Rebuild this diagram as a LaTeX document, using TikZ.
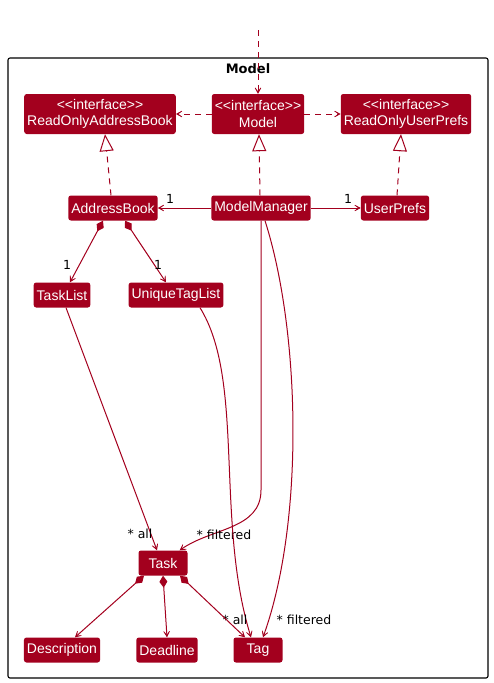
\documentclass[tikz,border=0pt]{standalone}
\usepackage{fontspec}
\usetikzlibrary{arrows.meta}
\newfontfamily\umlfont{Liberation Sans}
\newfontfamily\lblfont{DejaVu Sans}
\definecolor{umlred}{RGB}{163,0,30}

\begin{document}
\begin{tikzpicture}[x=1pt, y=-1pt,
  cls/.style={fill=umlred, text=white, rounded corners=2.5pt, inner xsep=3pt, inner ysep=0pt,
    minimum height=25pt, minimum width=49pt, align=center, font=\umlfont\fontsize{14}{16.5}\selectfont},
  iface/.style={cls, minimum height=40pt},
  lbl/.style={font=\lblfont\fontsize{12.5}{14}\selectfont, inner sep=0pt},
  assoc/.style={umlred, line width=1pt, -{Stealth[length=10pt,width=11pt,inset=7.5pt]}},
  dep/.style={assoc, dash pattern=on 6pt off 5pt},
  real/.style={umlred, line width=1pt, dash pattern=on 6pt off 5pt,
    -{Triangle[length=17pt,width=14pt,fill=white]}},
  comp/.style={umlred, line width=1pt,
    {Diamond[length=12pt,width=8pt]}-{Stealth[length=10pt,width=11pt,inset=7.5pt]}}]
  \useasboundingbox (0,0) rectangle (493,683);
  % Package
  \draw[black, line width=1.1pt, rounded corners=2pt] (8,58) rectangle (488,678);
  \node[font=\lblfont\bfseries\fontsize{13}{15}\selectfont] (title) at (248,69) {Model};
  % Interfaces
  \node[iface] (roab) at (100,114) {<<interface>>\\ReadOnlyAddressBook};
  \node[iface] (model) at (258,114) {<<interface>>\\Model};
  \node[iface] (roup) at (406,114) {<<interface>>\\ReadOnlyUserPrefs};
  % Classes
  \node[cls] (ab) at (113,208) {AddressBook};
  \node[cls] (mm) at (261,208) {ModelManager};
  \node[cls] (up) at (395,208) {UserPrefs};
  \node[cls] (tl) at (62,295) {TaskList};
  \node[cls] (utl) at (176,295) {UniqueTagList};
  \node[cls] (task) at (163,563) {Task};
  \node[cls] (desc) at (62,650) {Description};
  \node[cls] (dl) at (167,650) {Deadline};
  \node[cls] (tag) at (258,650) {Tag};
  % Dependencies
  \coordinate (ext) at (258,30);
  \draw[dep] (ext) -- (model);
  \draw[dep] (model) -- (roab);
  \draw[dep] (model) -- (roup);
  % Realizations
  \draw[real] ([xshift=-2pt]ab.north) -- ([xshift=5pt]roab.south);
  \draw[real] ([xshift=-1pt]mm.north) -- ([xshift=1pt]model.south);
  \draw[real] ([xshift=2pt]up.north) -- ([xshift=-5pt]roup.south);
  % Associations
  \draw[assoc] (mm) -- (ab);
  \draw[assoc] (mm) -- (up);
  \node[lbl] (l1) at (170,199) {1};
  \node[lbl] (l2) at (348,199) {1};
  \draw[comp] ([xshift=-10pt]ab.south) -- ([xshift=8pt]tl.north);
  \draw[comp] ([xshift=12pt]ab.south) -- ([xshift=-10pt]utl.north);
  \node[lbl] (l3) at (67,265) {1};
  \node[lbl] (l4) at (158,265) {1};
  \draw[assoc] ([xshift=4pt]tl.south) -- ([xshift=-6pt]task.north);
  \draw[assoc] (mm.south) -- (261,490) to[out=-90,in=35] ([xshift=-8pt]task.north east);
  \node[lbl] (l5) at (140,534) {* all};
  \node[lbl] (l6) at (224,535) {* filtered};
  \draw[assoc] ([xshift=24pt]utl.south) .. controls (245,380) and (215,520) .. ([xshift=-7pt]tag.north);
  \draw[assoc] ([xshift=4pt]mm.south) .. controls (300,330) and (305,520) .. ([xshift=5pt]tag.north);
  \node[lbl] (l7) at (235,620) {* all};
  \node[lbl] (l8) at (304,620) {* filtered};
  % Task parts
  \draw[comp] ([xshift=-19pt]task.south) -- ([xshift=13pt]desc.north);
  \draw[comp] (task.south) -- (dl.north);
  \draw[comp] ([xshift=17pt]task.south) -- ([xshift=-13pt]tag.north);
\end{tikzpicture}
\end{document}
